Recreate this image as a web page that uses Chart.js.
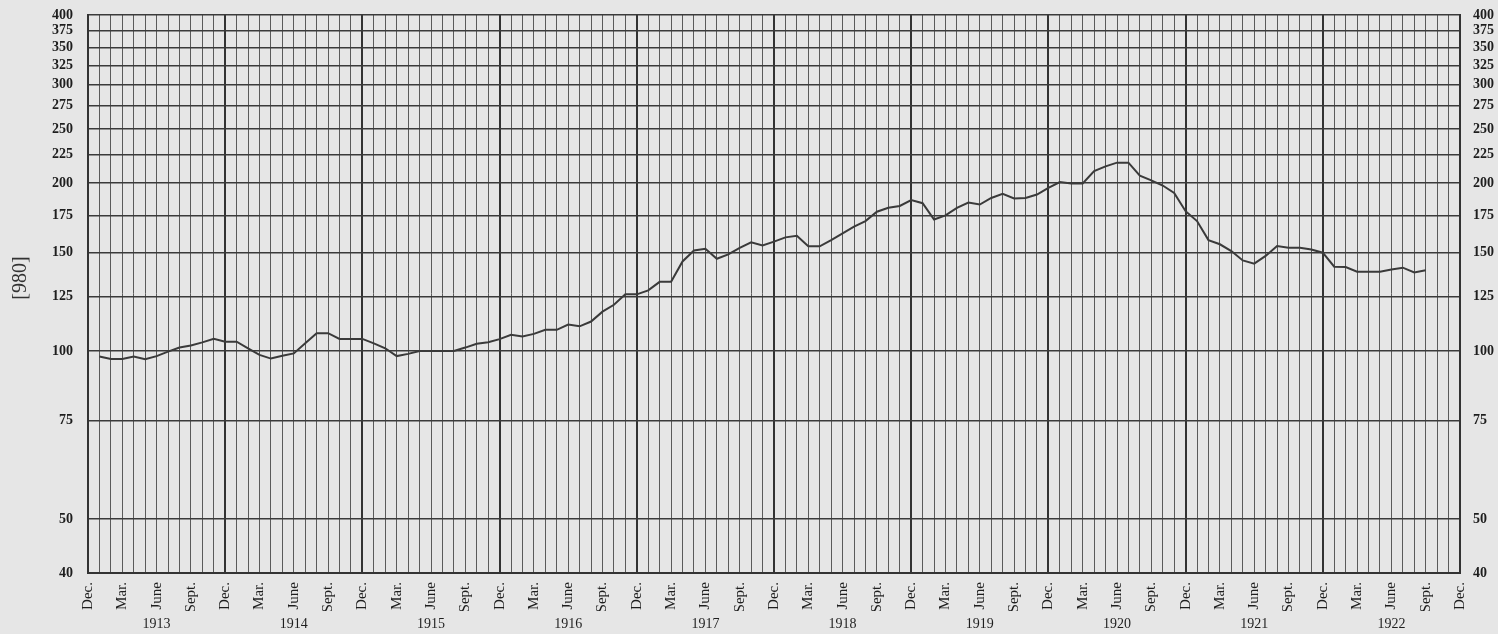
<!DOCTYPE html>
<html>
<head>
<meta charset="utf-8">
<script src="https://cdn.jsdelivr.net/npm/chart.js@4/dist/chart.umd.min.js"></script>
<style>
  html, body { margin: 0; padding: 0; background: #e6e6e6; }
  #wrap { width: 1498px; height: 634px; position: relative; }
</style>
</head>
<body>
<div id="wrap"><canvas id="indexChart"></canvas></div>
<script>
// month tick names, repeated every year starting at Dec. 1912
const monthNames = ['Dec.', '', '', 'Mar.', '', '', 'June', '', '', 'Sept.', '', ''];
const years = ['1913', '1914', '1915', '1916', '1917', '1918', '1919', '1920', '1921', '1922'];
const yTicks = [40, 50, 75, 100, 125, 150, 175, 200, 225, 250, 275, 300, 325, 350, 375, 400];

// monthly index, Jan. 1913 .. Sept. 1922
const indexValues = [
  97.7, 96.7, 96.7, 97.7, 96.6, 97.9, 99.7, 101.4, 102.3, 103.6, 105.1, 103.9,   // 1913
  103.9, 101.1, 98.4, 96.9, 98.0, 99.0, 103.2, 107.6, 107.6, 105.1, 105.1, 105.1, // 1914
  103.2, 101.1, 97.9, 98.8, 100, 100, 100, 100, 101.4, 103.0, 103.7, 105.0,       // 1915
  106.9, 106.2, 107.3, 109.1, 109.1, 111.5, 110.7, 112.9, 117.6, 121.0, 126.3, 126.3, // 1916
  128.4, 133, 133, 144.7, 151.4, 152.5, 146.3, 149, 153, 156.6, 154.5, 157,       // 1917
  159.8, 160.8, 154, 154, 158, 162.4, 167, 170.9, 177.6, 180.5, 181.9, 186.4,     // 1918
  184, 172, 175, 180.5, 184.5, 183, 188, 191.2, 187.6, 188, 190.7, 196,           // 1919
  200.8, 199.6, 199.6, 210, 214.2, 217.5, 217.5, 206.1, 202.2, 197.9, 192, 178,   // 1920
  170.9, 158, 155.3, 151, 145.3, 143.4, 148, 154.2, 153.1, 153.1, 152, 150,       // 1921
  141.6, 141.4, 138.7, 138.6, 138.6, 140, 141, 138.3, 139.5                       // 1922
];

const totalMonths = years.length * 12 + 1;
const monthLabels = [];
const yearLabels = [];
for (let i = 0; i < totalMonths; i++) {
  monthLabels.push(monthNames[i % 12]);
  yearLabels.push(i % 12 === 6 ? years[(i - 6) / 12] : '');
}
const seriesData = [null].concat(indexValues);

const serif = 'Liberation Serif, Times New Roman, serif';
const ink = '#1e1e1e';

const paperPlugin = {
  id: 'paper',
  beforeDraw(chart) {
    const c = chart.ctx;
    c.save();
    c.fillStyle = '#e6e6e6';
    c.fillRect(0, 0, chart.width, chart.height);
    c.restore();
  },
  afterDraw(chart) {
    // page number printed sideways at the left margin
    const c = chart.ctx;
    c.save();
    c.translate(21, 278);
    c.rotate(-Math.PI / 2);
    c.font = '20px ' + serif;
    c.fillStyle = '#333';
    c.textAlign = 'center';
    c.textBaseline = 'middle';
    c.fillText('[980]', 0, 0);
    c.restore();
  }
};

// keep the tick padding from pushing the plot area down
function fixSide(width) {
  return scale => {
    scale.width = width;
    scale.paddingTop = 7;
    scale.paddingBottom = 0;
  };
}

const ctx = document.getElementById('indexChart').getContext('2d');
const indexChart = new Chart(ctx, {
  type: 'line',
  data: {
    labels: monthLabels,
    datasets: [{
      data: seriesData,
      borderColor: '#3a3a3a',
      borderWidth: 2,
      pointRadius: 0,
      tension: 0,
      fill: false,
      spanGaps: false
    }]
  },
  options: {
    responsive: true,
    maintainAspectRatio: false,
    animation: false,
    layout: { padding: { top: 15, left: 0, right: 0, bottom: 0 } },
    plugins: {
      legend: { display: false },
      tooltip: { enabled: false }
    },
    scales: {
      x: {
        type: 'category',
        position: 'bottom',
        offset: false,
        grid: {
          color: ctx => (ctx.index % 12 === 0 ? '#333' : '#5a5a5a'),
          lineWidth: ctx => (ctx.index % 12 === 0 ? 2 : 1),
          drawTicks: false
        },
        border: { color: '#333', width: 2 },
        ticks: {
          autoSkip: false,
          minRotation: 90,
          maxRotation: 90,
          padding: 9,
          color: ink,
          font: { family: serif, size: 15 }
        },
        afterFit: scale => { scale.height = 38; }
      },
      x2: {
        type: 'category',
        position: 'bottom',
        labels: yearLabels,
        offset: false,
        grid: { display: false, drawTicks: false },
        border: { display: false },
        ticks: {
          autoSkip: false,
          maxRotation: 0,
          minRotation: 0,
          padding: 5,
          color: ink,
          font: { family: serif, size: 14 }
        },
        afterFit: scale => { scale.height = 23; }
      },
      y: {
        type: 'logarithmic',
        position: 'left',
        min: 40,
        max: 400,
        afterBuildTicks: scale => { scale.ticks = yTicks.map(v => ({ value: v })); },
        grid: { color: '#3a3a3a', lineWidth: 1.5, drawTicks: false },
        border: { color: '#333', width: 2 },
        ticks: {
          padding: 15,
          color: ink,
          font: { family: serif, size: 14, weight: 'bold' },
          callback: v => String(v)
        },
        afterFit: fixSide(88)
      },
      y2: {
        type: 'logarithmic',
        position: 'right',
        min: 40,
        max: 400,
        afterBuildTicks: scale => { scale.ticks = yTicks.map(v => ({ value: v })); },
        grid: { display: false, drawTicks: false },
        border: { color: '#333', width: 2 },
        ticks: {
          padding: 13,
          color: ink,
          font: { family: serif, size: 14, weight: 'bold' },
          callback: v => String(v)
        },
        afterFit: fixSide(38)
      }
    }
  },
  plugins: [paperPlugin]
});
</script>
</body>
</html>
